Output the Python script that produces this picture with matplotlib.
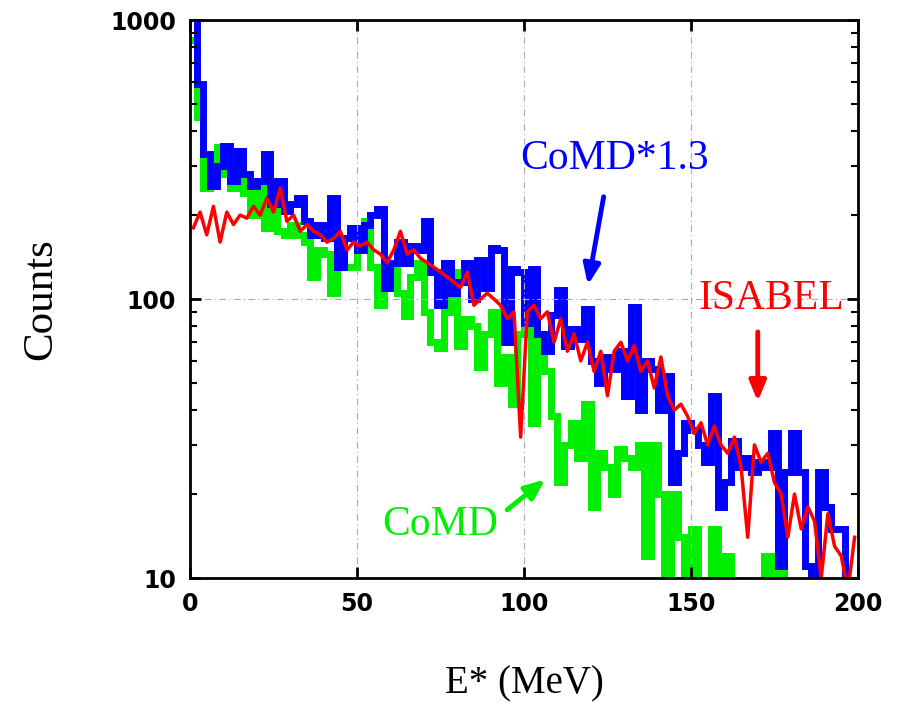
import matplotlib
matplotlib.use("Agg")
import matplotlib.pyplot as plt
import numpy as np

# 2 MeV bins from 0 to 200 MeV
bin_width = 2
edges = np.arange(0, 200 + bin_width, bin_width)
centers = edges[:-1] + bin_width / 2

comd_scaled = [1050, 590, 330, 255, 300, 355, 265, 340, 280, 255,
               265, 330, 220, 265, 207, 220, 230, 190, 170, 185,
               165, 230, 130, 165, 180, 150, 185, 200, 210, 110,
               135, 160, 135, 155, 150, 190, 125, 95, 135, 105,
               115, 135, 100, 138, 110, 152, 150, 70, 128, 125,
               82, 128, 75, 65, 88, 108, 68, 78, 72, 92,
               60, 50, 62, 56, 65, 45, 94, 40, 60, 56,
               40, 53, 22, 28, 36, 34, 30, 26, 45, 18,
               22, 31, 25, 27, 24, 26, 25, 33, 11, 24,
               33, 24, 11, 9, 24, 18, 15, 15, 9, 9]

comd = [850, 450, 250, 260, 350, 280, 250, 330, 240, 200,
        250, 180, 210, 175, 170, 185, 170, 160, 120, 150,
        145, 105, 160, 130, 130, 165, 190, 130, 95, 110,
        130, 105, 87, 120, 135, 90, 70, 67, 90, 125,
        68, 85, 80, 57, 75, 90, 50, 62, 42, 75,
        88, 36, 75, 55, 38, 22, 30, 36, 27, 42,
        18, 28, 25, 20, 29, 27, 25, 30, 12, 30,
        20, 8, 20, 14, 8, 15, 8, 8, 15, 8,
        12, 8, 8, 8, 8, 8, 12, 8, 12, 8,
        8, 8, 8, 8, 8, 8, 8, 8, 8, 8]

isabel = [180, 205, 170, 215, 160, 205, 185, 200, 195, 215,
          200, 230, 205, 250, 190, 200, 175, 185, 175, 170,
          160, 165, 175, 150, 160, 155, 160, 150, 145, 135,
          150, 175, 145, 150, 140, 135, 130, 125, 120, 115,
          110, 125, 95, 100, 105, 100, 95, 85, 90, 32,
          90, 95, 85, 90, 70, 85, 65, 75, 60, 70,
          55, 65, 45, 65, 70, 60, 68, 55, 60, 48,
          62, 45, 40, 42, 38, 33, 36, 30, 35, 30,
          28, 32, 25, 14, 30, 26, 28, 22, 20, 14,
          20, 15, 18, 16, 10, 17, 13, 12, 9, 14]

serif = "Liberation Serif"

fig = plt.figure(figsize=(9.05, 7.08), dpi=100)
ax = fig.add_axes([0.21, 0.1836, 0.738, 0.788])

ax.stairs(comd, edges, baseline=None, color="#00ee00", linewidth=5)
ax.plot(centers, isabel, color="#ff0000", linewidth=2.5)
ax.stairs(comd_scaled, edges, baseline=None, color="#0000ff", linewidth=5)

ax.set_yscale("log")
ax.set_xlim(0, 200)
ax.set_ylim(10, 1000)
ax.set_xticks([0, 50, 100, 150, 200])
ax.set_yticks([10, 100, 1000])
ax.set_yticklabels(["10", "100", "1000"])
ax.grid(True, which="major", color="#aaaaaa", linestyle=(0, (6, 3, 1, 3)), linewidth=0.8)
ax.tick_params(which="both", direction="in", top=True, right=True, labelsize=17, pad=10)
ax.tick_params(which="major", length=8, width=2)
ax.tick_params(which="minor", length=5, width=1.5)
for lab in ax.get_xticklabels() + ax.get_yticklabels():
    lab.set_fontweight("bold")
for s in ax.spines.values():
    s.set_linewidth(2)

ax.set_xlabel("E* (MeV)", fontsize=28, family=serif, labelpad=36)
ax.set_ylabel("Counts", fontsize=31, family=serif, labelpad=36)

ax.text(127, 319, "CoMD*1.3", color="#0000ff", fontsize=30, family=serif, ha="center", va="center")
ax.annotate("", xy=(119, 110), xytext=(124, 238),
            arrowprops=dict(arrowstyle="-|>,head_length=1.2,head_width=0.5", color="#0000ff", lw=3.5))
ax.text(174, 100, "ISABEL", color="#ff0000", fontsize=30, family=serif, ha="center", va="center")
ax.annotate("", xy=(170, 42), xytext=(170, 78),
            arrowprops=dict(arrowstyle="-|>,head_length=1.2,head_width=0.5", color="#ff0000", lw=3.5))
ax.text(75, 15.5, "CoMD", color="#00ee00", fontsize=30, family=serif, ha="center", va="center")
ax.annotate("", xy=(107, 22.9), xytext=(94.3, 17.3),
            arrowprops=dict(arrowstyle="-|>,head_length=1.2,head_width=0.5", color="#00ee00", lw=3.5))

fig.savefig("out.png", dpi=100)
